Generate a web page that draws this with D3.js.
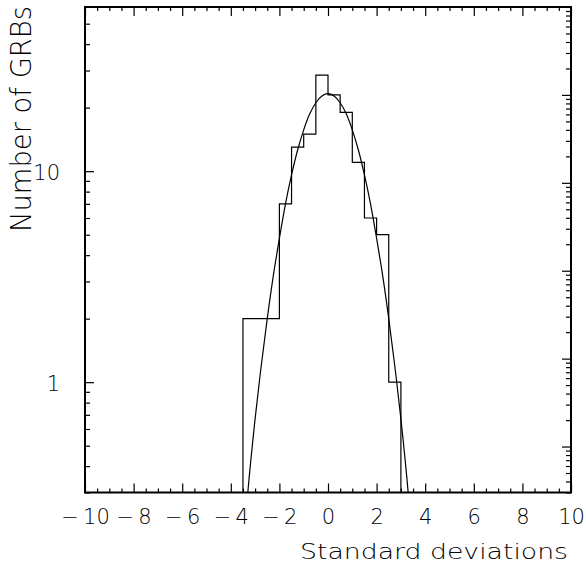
<!DOCTYPE html>
<html>
<head>
<meta charset="utf-8">
<script src="https://cdn.jsdelivr.net/npm/d3@7"></script>
<style>
  body { margin: 0; background: #fff; }
  svg { display: block; }
  text { font-family: "DejaVu Sans", Roboto, sans-serif; font-weight: 200; fill: #000; }
</style>
</head>
<body>
<svg width="586" height="573"></svg>
<script>
// histogram: lower bin edges (bin width 0.5) and counts
const binStarts = [-3.5, -3.0, -2.5, -2.0, -1.5, -1.0, -0.5, 0.0, 0.5, 1.0, 1.5, 2.0, 2.5];
const binCounts = [2, 2, 2, 7, 13, 15, 28.5, 23, 19, 11, 6, 5, 1];
const binWidth = 0.5;

// fitted curve, points
const curveX = [-3.5, -3.3, -3.0, -2.75, -2.5, -2.25, -2.0, -1.75, -1.5, -1.25, -1.0, -0.75, -0.5, -0.25, 0.0,
                0.25, 0.5, 0.75, 1.0, 1.25, 1.5, 1.75, 2.0, 2.25, 2.5, 2.75, 3.0, 3.3, 3.5];
const curveY = [0.15, 0.3, 0.67, 1.19, 2.0, 3.2, 4.8, 7.0, 9.6, 12.6, 15.7, 18.7, 21.1, 22.7, 23.3,
                22.7, 21.1, 18.7, 15.7, 12.6, 9.6, 7.0, 4.8, 3.2, 2.0, 1.19, 0.67, 0.3, 0.15];

// axes
const xTicks = [-10, -8, -6, -4, -2, 0, 2, 4, 6, 8, 10];
const yTicks = [1, 10];
const xTitle = 'Standard deviations';
const yTitle = 'Number of GRBs';

const svg = d3.select('svg');
const L = 85, R = 571, T = 7, B = 492.5;

const x = d3.scaleLinear().domain([-10, 10]).range([L, R]);
const y = d3.scaleLog().domain([0.3, 60]).range([B, T]);
// the right hand frame carries its own log scale (no labels)
const yRight = d3.scaleLog().domain([0.3, 1e5]).range([B, T]);

svg.append('clipPath').attr('id', 'plot')
    .append('rect').attr('x', L).attr('y', T).attr('width', R - L).attr('height', B - T);

const xMinor = d3.range(-10, 10.001, 0.5).filter(v => v % 2 !== 0);
const fmtX = d => d < 0 ? '\u2212\u2009' + Math.abs(d) : '' + d;

// bottom axis
svg.append('g')
    .attr('transform', `translate(0,${B})`)
    .call(d3.axisBottom(x).tickValues(xMinor).tickSize(-4).tickFormat(''));
svg.append('g')
    .attr('class', 'xaxis')
    .attr('transform', `translate(0,${B})`)
    .call(d3.axisBottom(x).tickValues(xTicks).tickSize(-9).tickPadding(17).tickFormat(fmtX));

// top axis
svg.append('g')
    .attr('transform', `translate(0,${T})`)
    .call(d3.axisTop(x).tickValues(xMinor).tickSize(-4).tickFormat(''));
svg.append('g')
    .attr('transform', `translate(0,${T})`)
    .call(d3.axisTop(x).tickValues(xTicks).tickSize(-9).tickFormat(''));

// left axis
const yMinor = y.ticks().filter(v => yTicks.indexOf(v) < 0 && v < 60);
svg.append('g')
    .attr('transform', `translate(${L},0)`)
    .call(d3.axisLeft(y).tickValues(yMinor).tickSize(-5).tickFormat(''));
svg.append('g')
    .attr('class', 'yaxis')
    .attr('transform', `translate(${L},0)`)
    .call(d3.axisLeft(y).tickValues(yTicks).tickSize(-9).tickPadding(25).tickFormat(d3.format('d')));

// right axis
const rMajor = [1, 10, 100, 1000, 10000];
const rMinor = yRight.ticks().filter(v => rMajor.indexOf(v) < 0 && v < 1e5);
svg.append('g')
    .attr('transform', `translate(${R},0)`)
    .call(d3.axisRight(yRight).tickValues(rMinor).tickSize(-5).tickFormat(''));
svg.append('g')
    .attr('transform', `translate(${R},0)`)
    .call(d3.axisRight(yRight).tickValues(rMajor).tickSize(-9).tickFormat(''));

svg.selectAll('.domain').remove();
svg.selectAll('.tick line').attr('stroke', '#000').attr('stroke-width', 1.2);

svg.selectAll('.xaxis text')
    .attr('font-size', 21)
    .attr('dy', '0.71em')
    .attr('fill', '#000');
svg.selectAll('.yaxis text')
    .attr('font-size', 21)
    .attr('dy', '0.38em')
    .attr('fill', '#000');

// histogram outline
const pts = [[x(binStarts[0]), B]];
binStarts.forEach((b, i) => {
    pts.push([x(b), y(binCounts[i])]);
    pts.push([x(b + binWidth), y(binCounts[i])]);
});
pts.push([x(binStarts[binStarts.length - 1] + binWidth), B]);

svg.append('path')
    .attr('d', d3.line()(pts))
    .attr('fill', 'none')
    .attr('stroke', '#000')
    .attr('stroke-width', 1.2);

// fitted curve
svg.append('path')
    .datum(curveX.map((v, i) => [v, curveY[i]]))
    .attr('clip-path', 'url(#plot)')
    .attr('d', d3.line().x(d => x(d[0])).y(d => y(d[1])).curve(d3.curveCatmullRom))
    .attr('fill', 'none')
    .attr('stroke', '#000')
    .attr('stroke-width', 1.2);

// frame
svg.append('rect')
    .attr('x', L).attr('y', T)
    .attr('width', R - L).attr('height', B - T)
    .attr('fill', 'none')
    .attr('stroke', '#000')
    .attr('stroke-width', 2);

// titles
svg.append('text')
    .attr('x', 568).attr('y', 559)
    .attr('text-anchor', 'end')
    .attr('font-size', 22)
    .attr('textLength', 268)
    .attr('lengthAdjust', 'spacingAndGlyphs')
    .text(xTitle);

svg.append('text')
    .attr('transform', 'translate(31,232) rotate(-90)')
    .attr('font-size', 28)
    .attr('textLength', 226)
    .attr('lengthAdjust', 'spacingAndGlyphs')
    .text(yTitle);
</script>
</body>
</html>
